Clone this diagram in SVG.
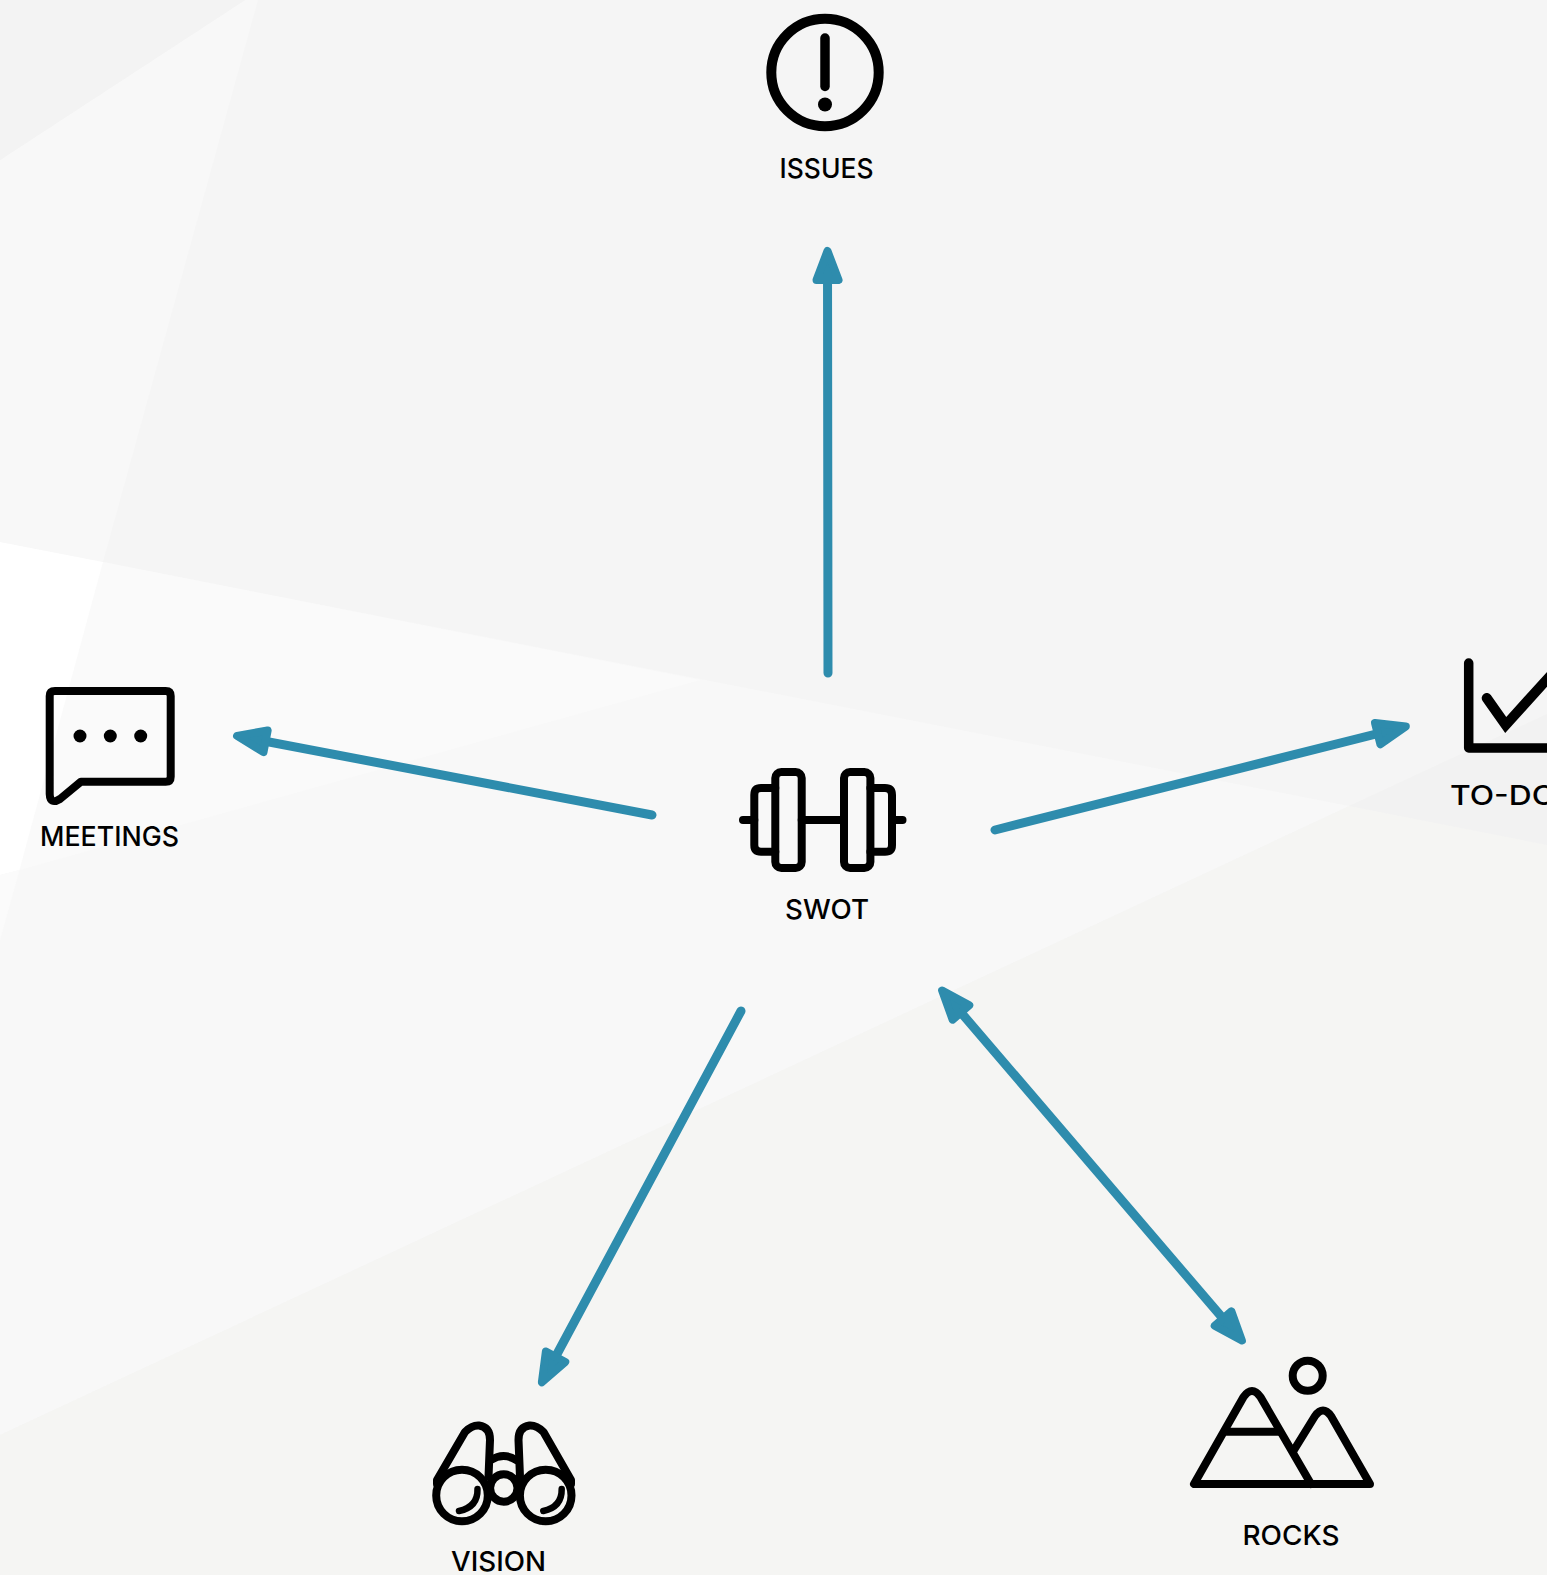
<svg xmlns="http://www.w3.org/2000/svg" width="1547" height="1575" viewBox="0 0 1547 1575">
<style>
.ic{fill:none;stroke:#000;stroke-width:8;stroke-linecap:round;stroke-linejoin:round}
.dot{fill:#000}
.lb{font-family:Inter,"Liberation Sans",sans-serif;font-size:27.5px;font-weight:500;fill:#000}
.ar{fill:none;stroke:#2e8cad;stroke-width:9;stroke-linecap:round}
</style>
<defs>
<marker id="ah" markerUnits="userSpaceOnUse" markerWidth="50" markerHeight="40" refX="30" refY="20" orient="auto-start-reverse" overflow="visible">
<path d="M7 9L36 20L7 31Z" fill="#2e8cad" stroke="#2e8cad" stroke-width="8" stroke-linejoin="round"/>
</marker>
</defs>
<g id="background">
<rect width="1547" height="1575" fill="#f5f5f5"/>
<polygon points="0,542 1349,806 0,1435" fill="#f8f8f8"/>
<polygon points="0,1435 1547,714 1547,1575 0,1575" fill="#f5f5f3"/>
<polygon points="1349,806 1547,714 1547,845" fill="#f2f2f2"/>
<polygon points="245,0 258,0 103,562 0,542 0,160" fill="#f8f8f8"/>
<polygon points="0,0 245,0 0,160" fill="#f3f3f3"/>
<polygon points="103,562 700,680 19.5,870" fill="#fafafa"/>
<polygon points="0,542 103,562 19.5,870 0,875" fill="#fff"/>
<polygon points="0,875 19.5,870 0,940" fill="#fbfbfb"/>
</g>
<g id="connectors">
<line class="ar" x1="828" y1="673" x2="827.5" y2="257" marker-end="url(#ah)"/>
<line class="ar" x1="652" y1="815" x2="243" y2="737" marker-end="url(#ah)"/>
<line class="ar" x1="995" y1="830" x2="1400" y2="728" marker-end="url(#ah)"/>
<line class="ar" x1="741" y1="1011" x2="544.7" y2="1377" marker-end="url(#ah)"/>
<line class="ar" x1="946" y1="995" x2="1238" y2="1336" marker-start="url(#ah)" marker-end="url(#ah)"/>
</g>
<g id="issues">
<circle cx="825" cy="72.5" r="53.7" fill="none" stroke="#000" stroke-width="10"/>
<line x1="825" y1="38" x2="825" y2="86.5" class="ic" style="stroke-width:9.5"/>
<circle class="dot" cx="825" cy="104.5" r="7"/>
<text class="lb" x="779.5" y="178" textLength="94" lengthAdjust="spacingAndGlyphs">ISSUES</text>
</g>
<g id="swot">
<rect class="ic" x="775.3" y="772" width="26.4" height="96" rx="6"/>
<rect class="ic" x="844" y="772" width="26.4" height="96" rx="6"/>
<path class="ic" d="M775.3 788H761Q754.3 788 754.3 795V845Q754.3 851.7 761 851.7H775.3"/>
<path class="ic" d="M870.4 788H885Q892 788 892 795V845Q892 851.7 885 851.7H870.4"/>
<path class="ic" d="M743 820H754.3M801.7 820H844M892 820H902.5"/>
<text class="lb" x="785" y="919" textLength="84" lengthAdjust="spacingAndGlyphs">SWOT</text>
</g>
<g id="meetings">
<path class="ic" d="M55 691H165.7Q170.7 691 170.7 696V776.7Q170.7 781.7 165.7 781.7H81L60 799Q50 805 49.7 794V696Q49.7 691 55 691Z"/>
<circle class="dot" cx="80" cy="736" r="6.5"/>
<circle class="dot" cx="110.3" cy="736" r="6.5"/>
<circle class="dot" cx="140.7" cy="736" r="6.5"/>
<text class="lb" x="40" y="846" textLength="139" lengthAdjust="spacingAndGlyphs">MEETINGS</text>
</g>
<g id="todo">
<path d="M1468.7 663V748H1560" fill="none" stroke="#000" stroke-width="9.5" stroke-linecap="round" stroke-linejoin="round"/>
<path d="M1486.7 698L1505.7 725L1560 665" fill="none" stroke="#000" stroke-width="10" stroke-linecap="round" stroke-linejoin="miter"/>
<text class="lb" x="1450" y="805" textLength="106" lengthAdjust="spacingAndGlyphs">TO-DO</text>
</g>
<g id="vision">
<circle class="ic" cx="462" cy="1495.5" r="25.8"/>
<circle class="ic" cx="545.7" cy="1495.5" r="25.8"/>
<circle class="ic" cx="503.8" cy="1488" r="13.7"/>
<path class="ic" d="M491 1460Q503.5 1452 516 1460"/>
<path class="ic" d="M437 1484V1480L465 1432Q472 1425 479 1425.5Q490 1427 490 1440L488.5 1477"/>
<path class="ic" d="M571 1484V1480L543.5 1432Q536.5 1425 529.5 1425.5Q518.5 1427 518.5 1440L520 1477"/>
<path class="ic" style="stroke-width:6.5" d="M477.5 1489Q478 1507 459 1511"/>
<path class="ic" style="stroke-width:6.5" d="M561.7 1489Q562 1507 543.3 1511"/>
<text class="lb" x="451" y="1571" textLength="95" lengthAdjust="spacingAndGlyphs">VISION</text>
</g>
<g id="rocks">
<circle class="ic" cx="1307.7" cy="1375.7" r="15"/>
<path class="ic" d="M1311 1484L1260.5 1397Q1252 1385 1243.5 1397L1194 1484H1370L1331 1416Q1323 1405 1315 1416L1294 1450"/>
<path class="ic" d="M1227 1431.7H1278"/>
<text class="lb" x="1242.5" y="1545" textLength="97" lengthAdjust="spacingAndGlyphs">ROCKS</text>
</g>
</svg>
